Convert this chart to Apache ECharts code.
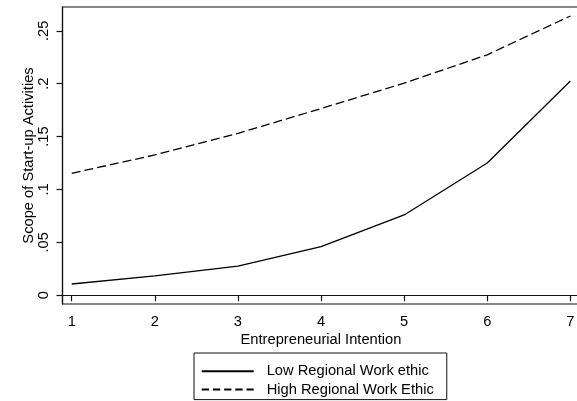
<!DOCTYPE html>
<html>
<head>
<meta charset="utf-8">
<script src="https://cdn.jsdelivr.net/npm/echarts@6/dist/echarts.min.js"></script>
<style>
html,body{margin:0;padding:0;background:#fff;}
#chart{width:577px;height:401px;}
</style>
</head>
<body>
<div id="chart"></div>
<script>
const xValues = [1, 2, 3, 4, 5, 6, 7];
const lowWorkEthic = [0.0106, 0.0182, 0.0276, 0.0459, 0.0759, 0.125, 0.2026];
const highWorkEthic = [0.1153, 0.1326, 0.153, 0.1765, 0.2005, 0.2273, 0.264];
const yTickValues = [0, 0.05, 0.1, 0.15, 0.2, 0.25];
const yTickLabels = ['0', '.05', '.1', '.15', '.2', '.25'];
const seriesNames = ['Low Regional Work ethic', 'High Regional Work Ethic'];

const FONT = '"Liberation Sans", Arial, Helvetica, sans-serif';
const FS = 14.7;

const chart = echarts.init(document.getElementById('chart'), null, {renderer: 'canvas'});
chart.setOption({
  animation: false,
  backgroundColor: '#fff',
  textStyle: {fontFamily: FONT},
  grid: {
    left: 62.5, top: 7, width: 517, height: 297,
    outerBoundsMode: 'none', containLabel: false,
    show: true, borderColor: '#111', borderWidth: 1.2, backgroundColor: '#fff'
  },
  xAxis: {
    type: 'value', min: 0.889, max: 7.11,
    name: 'Entrepreneurial Intention', nameLocation: 'middle', nameGap: 28,
    nameMoveOverlap: false,
    nameTextStyle: {fontFamily: FONT, fontSize: FS, color: '#000'},
    axisLine: {show: true, lineStyle: {color: '#111', width: 1.2}},
    axisTick: {show: true, length: 6, customValues: xValues, lineStyle: {color: '#111', width: 1.2}},
    axisLabel: {customValues: xValues, margin: 10, fontFamily: FONT, fontSize: FS, color: '#000',
      formatter: v => String(v)},
    splitLine: {show: false}
  },
  yAxis: {
    type: 'value', min: -0.0083, max: 0.2725,
    name: 'Scope of Start-up Activities', nameLocation: 'middle', nameGap: 26, nameRotate: 90,
    nameMoveOverlap: false,
    nameTextStyle: {fontFamily: FONT, fontSize: FS, color: '#000'},
    axisLine: {show: true, lineStyle: {color: '#111', width: 1.2}},
    axisTick: {show: true, length: 6, customValues: yTickValues, lineStyle: {color: '#111', width: 1.2}},
    axisLabel: {customValues: yTickValues, rotate: 90, margin: 11, fontFamily: FONT, fontSize: FS, color: '#000',
      formatter: v => {
        const i = yTickValues.findIndex(t => Math.abs(t - v) < 1e-9);
        return i >= 0 ? yTickLabels[i] : '';
      }},
    splitLine: {show: false}
  },
  legend: {
    left: 194, top: 353,
    orient: 'vertical',
    data: [
      {name: seriesNames[0]},
      {name: seriesNames[1], lineStyle: {type: [7.3, 3.9]}}
    ],
    borderColor: '#111', borderWidth: 1, borderRadius: 0,
    padding: [9.3, 13, 1, 6.7],
    itemWidth: 52, itemHeight: 10, itemGap: 0.3,
    itemStyle: {opacity: 0},
    textStyle: {fontFamily: FONT, fontSize: FS, color: '#000', lineHeight: 18, padding: [0, 0, 0, 8]}
  },
  series: [
    {
      name: seriesNames[0], type: 'line', symbol: 'none', showSymbol: false,
      data: xValues.map((x, i) => [x, lowWorkEthic[i]]),
      lineStyle: {color: '#000', width: 1.3, type: 'solid'},
      itemStyle: {color: '#000'}
    },
    {
      name: seriesNames[1], type: 'line', symbol: 'none', showSymbol: false,
      data: xValues.map((x, i) => [x, highWorkEthic[i]]),
      lineStyle: {color: '#000', width: 1.3, type: [9, 4]},
      itemStyle: {color: '#000'}
    }
  ]
});
</script>
</body>
</html>
